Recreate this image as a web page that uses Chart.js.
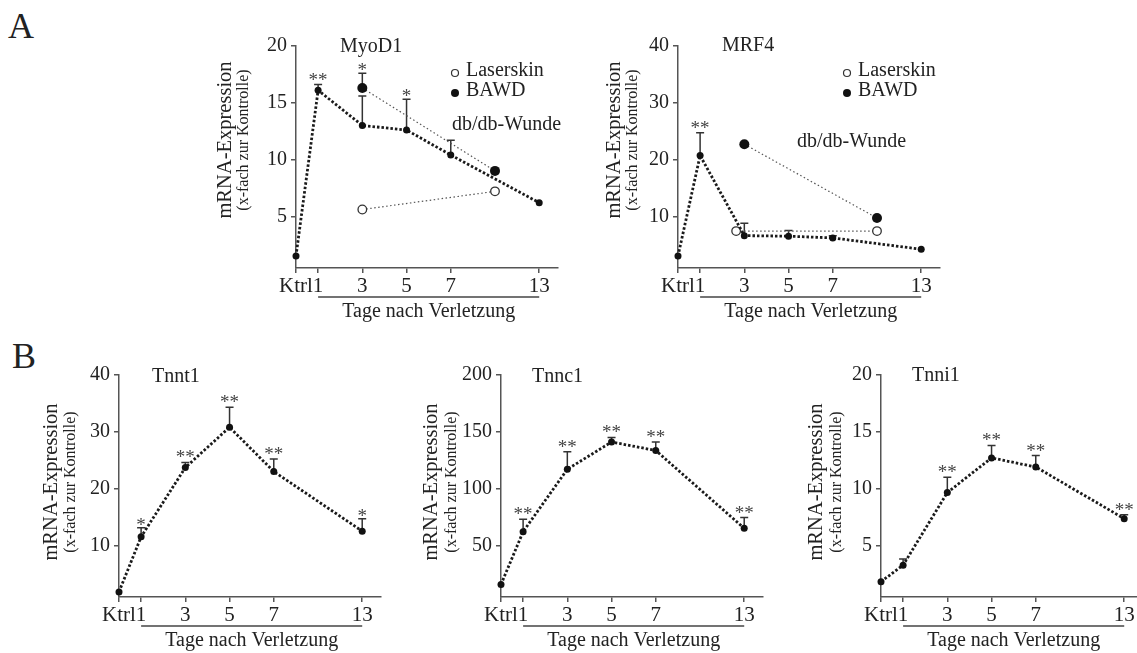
<!DOCTYPE html>
<html>
<head>
<meta charset="utf-8">
<script src="https://cdn.jsdelivr.net/npm/chart.js@4.4.1/dist/chart.umd.min.js"></script>
<style>
  html, body { margin: 0; padding: 0; background: #fff; width: 1137px; height: 653px; overflow: hidden; }
  body { position: relative; font-family: 'Liberation Serif', serif; }
  canvas { position: absolute; }
  .letter { position: absolute; font-size: 36px; line-height: 1; color: #222; }
</style>
</head>
<body>
<div class="letter" style="left:8px;top:8px">A</div>
<div class="letter" style="left:12px;top:338px">B</div>
<canvas id="myod1"></canvas>
<canvas id="mrf4"></canvas>
<canvas id="tnnt1"></canvas>
<canvas id="tnnc1"></canvas>
<canvas id="tnni1"></canvas>
<script>
// x axis: positions on the axis and their labels (Ktrl, days after injury)
const tickPos = [0, 1, 3, 5, 7, 11];
const tickLabels = ['Ktrl', '1', '3', '5', '7', '13'];
const extraPos = [3, 9];          // Laserskin / BAWD comparison points

// MyoD1
const myoTicks = [5, 10, 15, 20];
const myoMain = [1.5, 16.1, 13.0, 12.6, 10.4, 6.2];
const myoErr = [null, 16.6, 15.6, 15.3, 11.7, null];
const myoStars = ['', '**', '', '*', '', ''];
const myoLaser = [5.6, 7.2];
const myoBawd = [16.3, 9.0];
const myoBawdErr = [17.6, null];
const myoBawdStars = ['*', ''];

// MRF4
const mrfTicks = [10, 20, 30, 40];
const mrfMain = [3.0, 20.7, 6.6, 6.5, 6.2, 4.2];
const mrfErr = [null, 24.7, 8.8, 7.5, 6.6, null];
const mrfStars = ['', '**', '', '', '', ''];
const mrfLaserPos = [2.63, 9];
const mrfLaser = [7.4, 7.4];
const mrfBawd = [22.7, 9.7];

// Tnnt1
const tnntTicks = [10, 20, 30, 40];
const tnntMain = [1.8, 11.5, 23.7, 30.8, 23.0, 12.5];
const tnntErr = [null, 13.1, 24.6, 34.3, 25.2, 14.7];
const tnntStars = ['', '*', '**', '**', '**', '*'];

// Tnnc1
const tnncTicks = [50, 100, 150, 200];
const tnncMain = [15.5, 62, 117, 141, 133.5, 65];
const tnncErr = [null, 73, 132.5, 145, 141, 74.5];
const tnncStars = ['', '**', '**', '**', '**', '**'];

// Tnni1
const tnniTicks = [5, 10, 15, 20];
const tnniMain = [1.8, 3.25, 9.65, 12.7, 11.9, 7.35];
const tnniErr = [null, 3.8, 11.0, 13.8, 12.9, 7.7];
const tnniStars = ['', '', '**', '**', '**', '**'];

const FONT = "'Liberation Serif', serif";
const PAD_L = 110, PAD_T = 40, PAD_R = 25, PAD_B = 70;
const PLOT_W = 262, PLOT_H = 222;
const Y_W = 40, X_H = 30;
const X_MAX = 11.85;

function pts(xs, ys) {
    return xs.map((x, i) => ({x: x, y: ys[i]}));
}

function mainSet(values, err, stars) {
    return {
        data: pts(tickPos, values), errTop: err, stars: stars,
        borderColor: '#1a1a1a', borderWidth: 2.8, borderDash: [2.5, 2],
        pointRadius: 3.5, pointBackgroundColor: '#111', pointBorderWidth: 0,
        tension: 0, clip: false, order: 0
    };
}

function bawdSet(xs, values, err, stars) {
    return {
        data: pts(xs, values), errTop: err, stars: stars,
        borderColor: '#555', borderWidth: 1.2, borderDash: [1.5, 2.5],
        pointRadius: 5, pointBackgroundColor: '#111', pointBorderColor: '#111', pointBorderWidth: 0,
        tension: 0, clip: false, order: 1
    };
}

function laserSet(xs, values) {
    return {
        data: pts(xs, values),
        borderColor: '#555', borderWidth: 1.2, borderDash: [1.5, 2.5],
        pointRadius: 4.3, pointBackgroundColor: '#fff', pointBorderColor: '#333', pointBorderWidth: 1.3,
        tension: 0, clip: false, order: 1
    };
}

const decor = {
    id: 'decor',
    beforeDatasetsDraw(chart) {
        // error bars (upper half only)
        const ctx = chart.ctx, xs = chart.scales.x, ys = chart.scales.y;
        chart.data.datasets.forEach(ds => {
            if (!ds.errTop) return;
            ds.data.forEach((p, i) => {
                const top = ds.errTop[i];
                if (top == null) return;
                const px = xs.getPixelForValue(p.x);
                const py = ys.getPixelForValue(p.y);
                const pt = ys.getPixelForValue(top);
                ctx.save();
                ctx.strokeStyle = '#333';
                ctx.lineWidth = 1.5;
                ctx.beginPath();
                ctx.moveTo(px, py); ctx.lineTo(px, pt);
                ctx.moveTo(px - 4, pt); ctx.lineTo(px + 4, pt);
                ctx.stroke();
                ctx.restore();
            });
        });
    },
    afterDraw(chart, args, o) {
        const ctx = chart.ctx, a = chart.chartArea, xs = chart.scales.x, ys = chart.scales.y;
        ctx.save();
        // significance stars
        ctx.fillStyle = '#444';
        ctx.font = '19px ' + FONT;
        ctx.textAlign = 'center';
        ctx.textBaseline = 'alphabetic';
        chart.data.datasets.forEach(ds => {
            if (!ds.stars) return;
            ds.data.forEach((p, i) => {
                const s = ds.stars[i];
                if (!s) return;
                const top = ds.errTop && ds.errTop[i] != null ? ds.errTop[i] : p.y;
                const y = ys.getPixelForValue(top) + (s == '**' ? 1 : 3);
                ctx.fillText(s, xs.getPixelForValue(p.x), y);
            });
        });

        ctx.fillStyle = '#222';
        ctx.textAlign = 'left';
        ctx.textBaseline = 'middle';
        // gene title
        ctx.font = '20px ' + FONT;
        ctx.fillText(o.title, a.left + o.titleDx, a.top + o.titleDy);

        // legend
        if (o.legend) {
            const lg = o.legend;
            ctx.strokeStyle = '#333';
            ctx.lineWidth = 1.2;
            ctx.beginPath();
            ctx.arc(a.left + lg.dx, a.top + lg.dy, 3.5, 0, Math.PI * 2);
            ctx.fillStyle = '#fff';
            ctx.fill();
            ctx.stroke();
            ctx.fillStyle = '#111';
            ctx.beginPath();
            ctx.arc(a.left + lg.dx, a.top + lg.dy + 20, 4, 0, Math.PI * 2);
            ctx.fill();
            ctx.fillStyle = '#222';
            ctx.fillText('Laserskin', a.left + lg.dx + 11, a.top + lg.dy - 2);
            ctx.fillText('BAWD', a.left + lg.dx + 11, a.top + lg.dy + 18);
            ctx.fillText('db/db-Wunde', a.left + lg.wdx, a.top + lg.wdy);
        }

        // y axis title
        ctx.save();
        ctx.translate(a.left + o.yTitleDx, a.top + o.yTitleDy);
        ctx.rotate(-Math.PI / 2);
        ctx.textAlign = 'center';
        ctx.font = '20.5px ' + FONT;
        ctx.fillText('mRNA-Expression', 0, 0);
        ctx.font = '16px ' + FONT;
        ctx.fillText('(x-fach zur Kontrolle)', 0, o.ySubDx);
        ctx.restore();

        // bracket and label under the day ticks
        const x1 = xs.getPixelForValue(tickPos[1]);
        const x2 = xs.getPixelForValue(tickPos[tickPos.length - 1]);
        ctx.strokeStyle = '#444';
        ctx.lineWidth = 1.5;
        ctx.beginPath();
        ctx.moveTo(x1, a.bottom + 29);
        ctx.lineTo(x2, a.bottom + 29);
        ctx.stroke();
        ctx.textAlign = 'center';
        ctx.font = '20px ' + FONT;
        ctx.fillText('Tage nach Verletzung', (x1 + x2) / 2, a.bottom + 44);
        ctx.restore();
    }
};

function makePanel(id, L, T, cfg) {
    const cv = document.getElementById(id);
    cv.width = PAD_L + PLOT_W + PAD_R;
    cv.height = PAD_T + PLOT_H + PAD_B;
    cv.style.left = (L - PAD_L) + 'px';
    cv.style.top = (T - PAD_T) + 'px';
    const axisGrid = {drawOnChartArea: false, tickLength: 5, color: '#555', lineWidth: 1.5};
    const axisBorder = {display: true, color: '#555', width: 1.5};
    return new Chart(cv, {
        type: 'line',
        data: {datasets: cfg.datasets},
        options: {
            responsive: false,
            animation: false,
            events: [],
            layout: {padding: {left: PAD_L - Y_W, top: PAD_T, right: PAD_R, bottom: PAD_B - X_H}},
            plugins: {legend: {display: false}, tooltip: {enabled: false}, decor: cfg.decor},
            scales: {
                x: {
                    type: 'linear', min: 0, max: X_MAX,
                    afterFit: s => { s.height = X_H; },
                    afterBuildTicks: s => { s.ticks = tickPos.map(v => ({value: v})); },
                    ticks: {
                        autoSkip: false, maxRotation: 0, padding: 1, color: '#222',
                        font: {family: FONT, size: 21},
                        callback: v => tickLabels[tickPos.indexOf(v)]
                    },
                    grid: axisGrid, border: axisBorder
                },
                y: {
                    min: cfg.yMin, max: cfg.yMax,
                    afterFit: s => { s.width = Y_W; },
                    afterBuildTicks: s => { s.ticks = cfg.yTicks.map(v => ({value: v})); },
                    ticks: {padding: 4, color: '#222', font: {family: FONT, size: 20}},
                    grid: axisGrid, border: axisBorder
                }
            }
        },
        plugins: [decor]
    });
}

makePanel('myod1', 296, 46, {
    yMin: 0.45, yMax: 20, yTicks: myoTicks,
    datasets: [mainSet(myoMain, myoErr, myoStars), laserSet(extraPos, myoLaser), bawdSet(extraPos, myoBawd, myoBawdErr, myoBawdStars)],
    decor: {title: 'MyoD1', titleDx: 44, titleDy: 1, yTitleDx: -70, yTitleDy: 94, ySubDx: 18,
            legend: {dx: 159, dy: 27, wdx: 156, wdy: 79}}
});

makePanel('mrf4', 678, 46, {
    yMin: 0.9, yMax: 40, yTicks: mrfTicks,
    datasets: [mainSet(mrfMain, mrfErr, mrfStars), laserSet(mrfLaserPos, mrfLaser), bawdSet(extraPos, mrfBawd, null, null)],
    decor: {title: 'MRF4', titleDx: 44, titleDy: 0, yTitleDx: -63, yTitleDy: 94, ySubDx: 18,
            legend: {dx: 169, dy: 27, wdx: 119, wdy: 96}}
});

makePanel('tnnt1', 119, 375, {
    yMin: 0.9, yMax: 40, yTicks: tnntTicks,
    datasets: [mainSet(tnntMain, tnntErr, tnntStars)],
    decor: {title: 'Tnnt1', titleDx: 33, titleDy: 2, yTitleDx: -67, yTitleDy: 107, ySubDx: 19}
});

makePanel('tnnc1', 501, 375, {
    yMin: 4.5, yMax: 200, yTicks: tnncTicks,
    datasets: [mainSet(tnncMain, tnncErr, tnncStars)],
    decor: {title: 'Tnnc1', titleDx: 31, titleDy: 2, yTitleDx: -69, yTitleDy: 107, ySubDx: 20}
});

makePanel('tnni1', 881, 375, {
    yMin: 0.45, yMax: 20, yTicks: tnniTicks,
    datasets: [mainSet(tnniMain, tnniErr, tnniStars)],
    decor: {title: 'Tnni1', titleDx: 31, titleDy: 1, yTitleDx: -64, yTitleDy: 107, ySubDx: 20}
});
</script>
</body>
</html>
